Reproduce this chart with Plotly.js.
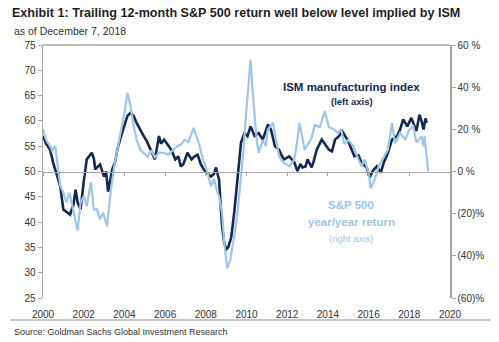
<!DOCTYPE html>
<html>
<head>
<meta charset="utf-8">
<script src="https://cdn.plot.ly/plotly-3.0.1.min.js"></script>
<style>html,body{margin:0;padding:0;background:#fff;}#chart{width:499px;height:342px;}</style>
</head>
<body>
<div id="chart"></div>
<script>
// ISM manufacturing index (left axis)
const ismYears = [2000.0,2000.15,2000.35,2000.5,2000.7,2000.85,2001.0,2001.15,2001.33,2001.5,2001.6,2001.7,2001.85,2002.0,2002.15,2002.4,2002.5,2002.57,2002.7,2002.8,2003.0,2003.1,2003.2,2003.4,2003.55,2003.65,2003.8,2003.97,2004.15,2004.3,2004.45,2004.6,2004.8,2004.95,2005.1,2005.3,2005.5,2005.7,2005.8,2005.95,2006.1,2006.3,2006.5,2006.65,2006.77,2006.9,2007.1,2007.3,2007.45,2007.6,2007.75,2007.9,2008.1,2008.25,2008.4,2008.5,2008.65,2008.75,2008.8,2008.9,2009.0,2009.1,2009.25,2009.4,2009.55,2009.65,2009.73,2009.9,2010.05,2010.2,2010.4,2010.6,2010.8,2011.05,2011.2,2011.4,2011.6,2011.75,2011.85,2012.1,2012.35,2012.5,2012.65,2012.75,2012.9,2013.0,2013.2,2013.3,2013.45,2013.7,2013.9,2014.05,2014.2,2014.35,2014.55,2014.7,2014.85,2015.0,2015.1,2015.3,2015.5,2015.65,2015.9,2016.05,2016.2,2016.4,2016.6,2016.75,2016.95,2017.15,2017.4,2017.55,2017.7,2017.9,2018.1,2018.25,2018.35,2018.5,2018.6,2018.7,2018.8,2018.85];
const ismValues = [57,55.5,54.3,51.7,49.1,47,42.5,42,41.5,43.5,46.4,43.9,42.5,48,52.4,53.7,52.5,50.4,51,51.4,49,50,46,50.4,52,54.3,56.5,58.7,61,61.6,61,59.6,58,57,56,54.3,52.4,57,55.5,56.3,55.5,54.3,52.4,53,51,51.5,53.7,52.4,53,53.3,51.5,50.4,49.5,49,49.5,50.8,48.4,43,39.2,36,34.6,35,37,42,49,52,55.7,57.6,57,58.9,57,57.6,56.3,59.3,58.3,55,54.3,53,52.4,53,51.8,50.1,51.5,50.8,51,52.4,50.8,52,54.3,56.3,55,54.3,54,56.3,57,58,57,56,55,53,53.2,51.8,50.8,48.8,50.1,51,49.8,51.8,53.7,56.3,57,58.3,60.3,58.9,60.6,59,58,61.2,60,58.3,60.5,59.6];

// S&P 500 year/year return, % (right axis)
const spxYears = [2000.0,2000.15,2000.35,2000.45,2000.6,2000.75,2000.85,2001.0,2001.15,2001.3,2001.5,2001.7,2001.85,2002.0,2002.15,2002.35,2002.5,2002.65,2002.8,2002.95,2003.15,2003.3,2003.5,2003.75,2004.0,2004.15,2004.3,2004.45,2004.6,2004.8,2004.95,2005.15,2005.3,2005.5,2005.7,2005.95,2006.15,2006.35,2006.6,2006.8,2006.95,2007.15,2007.4,2007.6,2007.7,2007.85,2008.0,2008.25,2008.4,2008.55,2008.65,2008.8,2008.9,2009.05,2009.2,2009.4,2009.55,2009.7,2009.85,2010.0,2010.1,2010.2,2010.3,2010.4,2010.5,2010.6,2010.8,2010.95,2011.05,2011.3,2011.45,2011.6,2011.75,2011.85,2012.1,2012.35,2012.5,2012.6,2012.75,2012.85,2013.05,2013.2,2013.35,2013.6,2013.85,2014.05,2014.3,2014.5,2014.65,2014.8,2015.0,2015.25,2015.5,2015.65,2015.8,2016.0,2016.1,2016.3,2016.5,2016.75,2016.95,2017.15,2017.3,2017.55,2017.8,2018.0,2018.2,2018.35,2018.6,2018.7,2018.75,2018.93];
const spxValues = [20,15,12,10,12,2,-7,-10,-14.7,-10,-19.5,-28,-14.7,-11.7,-16.4,-5.2,-18,-18,-22.7,-19.5,-26,-11.7,2.5,15,27.8,37.3,31,22,15,10,8.9,7,10,6.7,9,8.9,8,10,12,13,15,14,20.7,15,12,6,2.5,-7,-3.5,-9,-11.7,-19.5,-33,-46,-42,-30.6,-20,-5.3,10,30,40,53,38,26,15,8.9,15,12,19.9,23,15,7.3,4.9,4,2.5,5.7,15,23,16,10.4,13.3,16,22,21,28.6,21,20,18.3,20,13,15,12,5.7,2.5,5.7,-0.6,-8,-3.8,2.5,7.3,10.4,23,13.3,18.3,15,19.9,21.5,13.7,16.7,12,16.7,0];

// Axis ticks
const xTicks = [2000,2002,2004,2006,2008,2010,2012,2014,2016,2018,2020];
const leftTicks = [25,30,35,40,45,50,55,60,65,70,75];
const rightTickVals = [-60,-40,-20,0,20,40,60];
const rightTickText = ['(60)%','(40)%','(20)%','0 %','20 %','40 %','60 %'];

const NAVY = '#13294f';
const LIGHT = '#9fc5e8';
const AXIS = '#a6a6a6';
const FONT = 'Liberation Sans, Arial, sans-serif';

const traces = [
  {x: spxYears, y: spxValues, xaxis: 'x2', yaxis: 'y2', type: 'scatter', mode: 'lines',
   line: {color: LIGHT, width: 2.2}, name: 'S&P 500 year/year return', hoverinfo: 'skip'},
  {x: ismYears, y: ismValues, xaxis: 'x', yaxis: 'y', type: 'scatter', mode: 'lines',
   line: {color: NAVY, width: 2.6}, name: 'ISM manufacturing index', hoverinfo: 'skip'}
];

const layout = {
  width: 499, height: 342,
  margin: {l: 43, r: 49, t: 45, b: 44},
  paper_bgcolor: '#fff', plot_bgcolor: '#fff',
  showlegend: false,
  font: {family: FONT, size: 10, color: '#333'},
  title: {text: '<b>Exhibit 1: Trailing 12-month S&P 500 return well below level implied by ISM</b>',
          x: 0.024, xanchor: 'left', xref: 'container', y: 0.962, yanchor: 'middle', yref: 'container',
          font: {family: FONT, size: 12.6, color: '#1e1e1e'}},
  xaxis: {range: [2000, 2020], tickvals: xTicks, ticktext: xTicks.map(String),
          showline: false, ticks: '', showgrid: false, zeroline: false, ticklabelstandoff: 9,
          tickfont: {family: FONT, size: 10, color: '#333'}, fixedrange: true},
  xaxis2: {overlaying: 'x', matches: 'x', anchor: 'free', position: 0.5,
           tickvals: xTicks, showticklabels: false, showline: true, linecolor: AXIS, linewidth: 1.5,
           ticks: 'outside', ticklen: 3, tickcolor: AXIS, showgrid: false, zeroline: false},
  yaxis: {range: [25, 75], tickvals: leftTicks, showline: true, linecolor: AXIS, linewidth: 1.5,
          ticks: 'outside', ticklen: 4, tickcolor: AXIS, showgrid: false, zeroline: false,
          tickfont: {family: FONT, size: 10, color: '#333'}},
  yaxis2: {range: [-60, 60], overlaying: 'y', side: 'right', anchor: 'free', position: 1,
           tickvals: rightTickVals, ticktext: rightTickText, showline: true, linecolor: AXIS, linewidth: 1.5,
           ticks: 'outside', ticklen: 4, tickcolor: AXIS, showgrid: false, zeroline: false,
           tickfont: {family: FONT, size: 10, color: '#333'}},
  shapes: [
    {type: 'line', xref: 'paper', yref: 'paper', x0: 0, x1: 1, y0: 1, y1: 1, line: {color: AXIS, width: 1.5}},
    {type: 'line', xref: 'paper', yref: 'paper', x0: -0.081, x1: 1.098, y0: -0.087, y1: -0.087, line: {color: '#8c8c8c', width: 1}}
  ],
  annotations: [
    {text: 'as of December 7, 2018', xref: 'paper', yref: 'paper', x: -0.076, y: 1.055, xanchor: 'left', yanchor: 'middle',
     showarrow: false, font: {family: FONT, size: 10.5, color: '#333'}},
    {text: '<b>ISM manufacturing index</b>', xref: 'paper', yref: 'paper', x: 0.759, y: 0.834, xanchor: 'center', yanchor: 'middle',
     showarrow: false, font: {family: FONT, size: 11.5, color: NAVY}},
    {text: '<b>(left axis)</b>', xref: 'paper', yref: 'paper', x: 0.759, y: 0.775, xanchor: 'center', yanchor: 'middle',
     showarrow: false, font: {family: FONT, size: 9.5, color: NAVY}},
    {text: '<b>S&P 500</b>', xref: 'paper', yref: 'paper', x: 0.757, y: 0.368, xanchor: 'center', yanchor: 'middle',
     showarrow: false, font: {family: FONT, size: 11.5, color: LIGHT}},
    {text: '<b>year/year return</b>', xref: 'paper', yref: 'paper', x: 0.757, y: 0.300, xanchor: 'center', yanchor: 'middle',
     showarrow: false, font: {family: FONT, size: 11.5, color: LIGHT}},
    {text: '(right axis)', xref: 'paper', yref: 'paper', x: 0.757, y: 0.237, xanchor: 'center', yanchor: 'middle',
     showarrow: false, font: {family: FONT, size: 9.5, color: LIGHT}},
    {text: 'Source: Goldman Sachs Global Investment Research', xref: 'paper', yref: 'paper', x: -0.076, y: -0.134,
     xanchor: 'left', yanchor: 'middle', showarrow: false, font: {family: FONT, size: 9, color: '#333'}}
  ]
};

Plotly.newPlot('chart', traces, layout, {staticPlot: true, displayModeBar: false});
</script>
</body>
</html>
